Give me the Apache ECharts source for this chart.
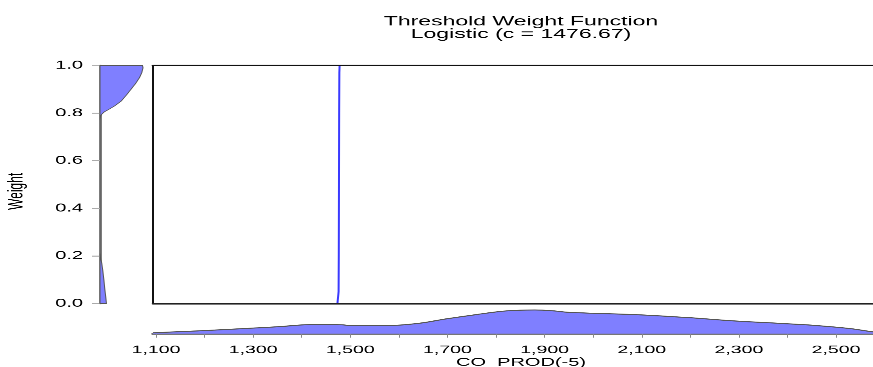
<!DOCTYPE html>
<html><head><meta charset="utf-8">
<script src="https://cdn.jsdelivr.net/npm/echarts@6/dist/echarts.min.js"></script>
<style>
html,body{margin:0;padding:0;background:#fff;overflow:hidden;width:873px;height:367px}
#c{width:873px;height:642px;transform:scaleY(0.571651);transform-origin:0 0;}
</style>
</head><body><div id="c"></div>
<script>
// ---- data ----
const titleLines = ['Threshold Weight Function', 'Logistic (c = 1476.67)'];
const xName = 'CO_PROD(-5)';
const yName = 'Weight';
const xMin = 1093.8, xMax = 2609;
const xTickValues = [1100,1200,1300,1400,1500,1600,1700,1800,1900,2000,2100,2200,2300,2400,2500,2600];
const xLabelValues = [1100,1300,1500,1700,1900,2100,2300,2500];
const yTickStep = 0.2;

// threshold weight function (logistic, c = 1476.67)
const weightX = [1093.8, 1473.5, 1475.0, 1475.9, 1476.3, 1476.67, 1477.0, 1477.4, 1478.0, 2609];
const weightY = [0, 0, 0.004, 0.05, 0.2, 0.5, 0.8, 0.97, 1, 1];

// kernel density of the weights (left margin), low and high clusters
const wLow = [0.00, 0.03, 0.06, 0.10, 0.14, 0.17, 0.19, 0.20, 0.21];
const dLow = [0.75, 0.66, 0.56, 0.45, 0.32, 0.20, 0.08, 0.02, 0];
const wHigh = [0.78, 0.785, 0.795, 0.805, 0.815, 0.83, 0.85, 0.875, 0.90, 0.925, 0.95, 0.97, 0.99, 1.00];
const dHigh = [0, 0.05, 0.2, 0.5, 1.0, 1.7, 2.45, 3.05, 3.6, 4.15, 4.6, 4.85, 4.99, 4.93];

// kernel density of CO_PROD(-5) (bottom margin)
const coX = [1093.8, 1150, 1200, 1300, 1355, 1403, 1431, 1460, 1485, 1500, 1567, 1637, 1698, 1760, 1814, 1849, 1880, 1920, 1946, 2014, 2096, 2193, 2288, 2391, 2460, 2529, 2576, 2609];
const coDens = [0.2, 0.5, 0.77, 1.41, 1.79, 2.23, 2.30, 2.30, 2.23, 2.05, 2.05, 2.56, 3.76, 4.86, 5.71, 5.96, 6.02, 5.79, 5.45, 5.12, 4.79, 4.10, 3.25, 2.56, 2.05, 1.28, 0.44, 0.13];

// ---- chart ----
const FONT = 'Liberation Sans, Arial, sans-serif';
const FILL = '#7f7fff';
const pairs = (a, b) => a.map((v, i) => [v, b[i]]);
const fmtThousands = v => String(Math.round(v)).replace(/\B(?=(\d{3})+(?!\d))/g, ',');

function densityPolygon(ws, ds) {
  return function (params, api) {
    if (params.dataIndex !== 0) return null;
    const pts = [api.coord([0, ws[0]])];
    for (let i = 0; i < ws.length; i++) pts.push(api.coord([ds[i], ws[i]]));
    pts.push(api.coord([0, ws[ws.length - 1]]));
    return { type: 'polygon', shape: { points: pts }, style: { fill: FILL, stroke: '#555', lineWidth: 1 } };
  };
}

const chart = echarts.init(document.getElementById('c'), null, { renderer: 'canvas', devicePixelRatio: 2 });
chart.setOption({
  animation: false,
  backgroundColor: '#fff',
  title: {
    text: titleLines.join('\n'),
    left: 521, top: 27, textAlign: 'center', padding: 0,
    textStyle: { fontFamily: FONT, fontSize: 23, fontWeight: 'normal', color: '#000', lineHeight: 22 }
  },
  grid: [
    { left: 153, top: 114.5, width: 736, height: 416.5, containLabel: false, outerBoundsMode: 'none' },
    { left: 100, top: 114.5, width: 50, height: 416.5, containLabel: false, outerBoundsMode: 'none' },
    { left: 153, top: 533.5, width: 736, height: 50, containLabel: false, outerBoundsMode: 'none' }
  ],
  xAxis: [
    { gridIndex: 0, type: 'value', min: xMin, max: xMax, position: 'bottom', z: 10,
      axisLine: { show: true, onZero: false, lineStyle: { color: '#222', width: 2.6 } },
      axisTick: { show: false }, axisLabel: { show: false }, splitLine: { show: false } },
    { gridIndex: 0, type: 'value', min: xMin, max: xMax, position: 'top', z: 10,
      axisLine: { show: true, onZero: false, lineStyle: { color: '#111', width: 2.6 } },
      axisTick: { show: false }, axisLabel: { show: false }, splitLine: { show: false } },
    { gridIndex: 1, type: 'value', min: 0, max: 5.8, show: false },
    { gridIndex: 2, type: 'value', min: xMin, max: xMax, position: 'bottom',
      axisLine: { show: true, onZero: false, lineStyle: { color: '#777', width: 3.5 } },
      axisTick: { show: true, customValues: xTickValues, length: 7, lineStyle: { color: '#888', width: 1 } },
      axisLabel: { show: true, customValues: xLabelValues, formatter: fmtThousands, fontFamily: FONT, fontSize: 19.5, color: '#000', margin: 19 },
      splitLine: { show: false },
      name: xName, nameLocation: 'middle', nameGap: 41,
      nameTextStyle: { fontFamily: FONT, fontSize: 20, color: '#000' } }
  ],
  yAxis: [
    { gridIndex: 0, type: 'value', min: 0, max: 1, position: 'left', z: 10,
      axisLine: { show: true, onZero: false, lineStyle: { color: '#111', width: 2 } },
      axisTick: { show: false }, axisLabel: { show: false }, splitLine: { show: false } },
    { gridIndex: 1, type: 'value', min: 0, max: 1, interval: yTickStep, position: 'left',
      axisLine: { show: true, onZero: false, lineStyle: { color: '#666', width: 2.7 } },
      axisTick: { show: true, length: 8, lineStyle: { color: '#aaa', width: 1.75 } },
      axisLabel: { formatter: v => v.toFixed(1), fontFamily: FONT, fontSize: 20, color: '#000', margin: 17 },
      splitLine: { show: false },
      name: yName, nameLocation: 'middle', nameRotate: 90, nameGap: 73,
      nameTextStyle: { fontFamily: 'Liberation Sans Narrow, Arial Narrow, sans-serif', fontSize: 21, color: '#000', padding: [0, 24, 0, 0] } },
    { gridIndex: 2, type: 'value', min: 0, max: 7.3, show: false }
  ],
  series: [
    { type: 'line', name: 'Weight', xAxisIndex: 0, yAxisIndex: 0, data: pairs(weightX, weightY),
      showSymbol: false, symbol: 'none', lineStyle: { color: '#3a3aff', width: 2 }, z: 3 },
    { type: 'custom', name: 'Weight density (high)', xAxisIndex: 2, yAxisIndex: 1,
      data: pairs(dHigh, wHigh), renderItem: densityPolygon(wHigh, dHigh), z: 3 },
    { type: 'custom', name: 'Weight density (low)', xAxisIndex: 2, yAxisIndex: 1,
      data: pairs(dLow, wLow), renderItem: densityPolygon(wLow, dLow), z: 3 },
    { type: 'line', name: 'CO_PROD density', xAxisIndex: 3, yAxisIndex: 2, data: pairs(coX, coDens),
      showSymbol: false, symbol: 'none', smooth: 0.4,
      lineStyle: { color: '#555', width: 1.75 }, areaStyle: { color: FILL, opacity: 1 }, z: 3 }
  ]
});
</script>
</body></html>
